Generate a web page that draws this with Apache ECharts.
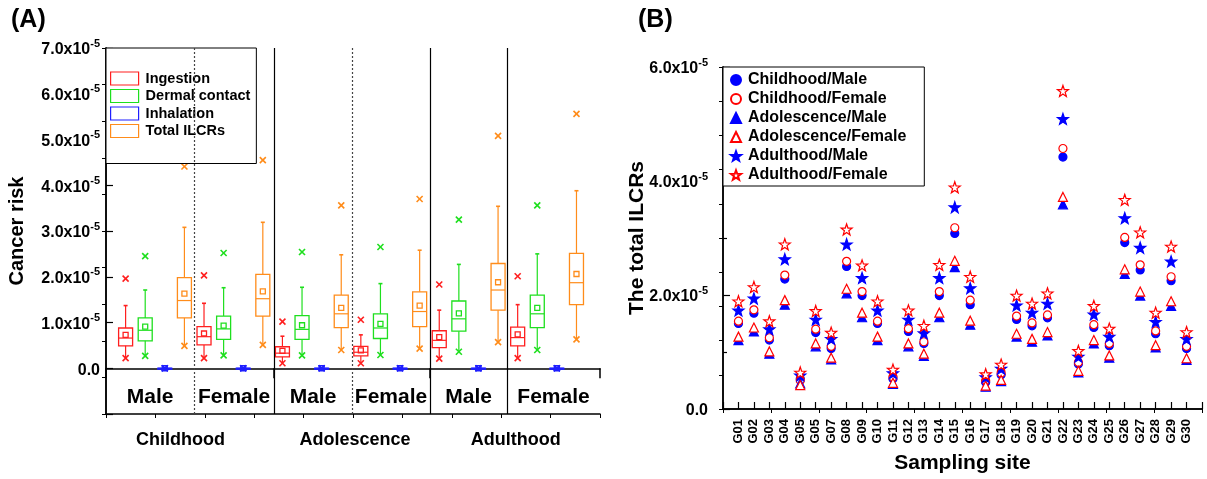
<!DOCTYPE html>
<html>
<head>
<meta charset="utf-8">
<script src="https://cdn.jsdelivr.net/npm/echarts@6/dist/echarts.min.js"></script>
<style>
  html, body { margin: 0; padding: 0; background: #fff; }
  #chart { width: 1207px; height: 479px; }
</style>
</head>
<body>
<div id="chart"></div>
<script>
// ---------- (A) box plots, values in units of 1e-5 ----------
// order of groups: Childhood M/F, Adolescence M/F, Adulthood M/F
// each row: [min, q1, median, q3, upper whisker, max, mean]
var sexes = ['Male', 'Female', 'Male', 'Female', 'Male', 'Female'];
var ageGroups = ['Childhood', 'Adolescence', 'Adulthood'];
var routes = ['Ingestion', 'Dermal contact', 'Inhalation', 'Total ILCRs'];

var ingestion = [
  [0.22, 0.49, 0.66, 0.88, 1.37, 1.96, 0.73],
  [0.22, 0.51, 0.69, 0.91, 1.42, 2.03, 0.76],
  [0.11, 0.25, 0.33, 0.47, 0.70, 1.02, 0.38],
  [0.11, 0.27, 0.35, 0.48, 0.73, 1.06, 0.39],
  [0.21, 0.45, 0.61, 0.82, 1.27, 1.83, 0.68],
  [0.22, 0.49, 0.67, 0.90, 1.39, 2.01, 0.74]
];
var dermal = [
  [0.27, 0.60, 0.83, 1.10, 1.71, 2.45, 0.91],
  [0.28, 0.63, 0.86, 1.14, 1.76, 2.52, 0.93],
  [0.28, 0.63, 0.85, 1.15, 1.77, 2.54, 0.94],
  [0.29, 0.65, 0.88, 1.19, 1.85, 2.65, 0.97],
  [0.36, 0.81, 1.08, 1.47, 2.27, 3.25, 1.20],
  [0.40, 0.89, 1.19, 1.60, 2.50, 3.56, 1.32]
];
var inhalation = [
  [0, 0, 0, 0, 0, 0, 0],
  [0, 0, 0, 0, 0, 0, 0],
  [0, 0, 0, 0, 0, 0, 0],
  [0, 0, 0, 0, 0, 0, 0],
  [0, 0, 0, 0, 0, 0, 0],
  [0, 0, 0, 0, 0, 0, 0]
];
var totalIlcr = [
  [0.49, 1.10, 1.48, 1.98, 3.08, 4.41, 1.63],
  [0.51, 1.14, 1.52, 2.05, 3.19, 4.55, 1.68],
  [0.40, 0.89, 1.19, 1.60, 2.48, 3.56, 1.32],
  [0.43, 0.91, 1.24, 1.67, 2.58, 3.70, 1.37],
  [0.57, 1.27, 1.71, 2.29, 3.54, 5.08, 1.88],
  [0.63, 1.39, 1.87, 2.51, 3.88, 5.56, 2.06]
];

// ---------- (B) total ILCRs per sampling site, units of 1e-5 ----------
var sites = ['G01','G02','G03','G04','G05','G05','G07','G08','G09','G10',
             'G11','G12','G13','G14','G15','G16','G17','G18','G19','G20',
             'G21','G22','G23','G24','G25','G26','G27','G28','G29','G30'];
var childMale   = [1.50,1.68,1.21,2.28,0.53,1.34,1.06,2.50,1.99,1.50,0.53,1.36,1.15,1.99,3.08,1.83,0.47,0.60,1.57,1.46,1.60,4.42,0.79,1.43,1.11,2.92,2.44,1.32,2.25,1.06];
var childFemale = [1.54,1.74,1.25,2.35,0.50,1.40,1.10,2.59,2.06,1.54,0.56,1.41,1.18,2.06,3.18,1.91,0.50,0.63,1.63,1.51,1.65,4.57,0.82,1.48,1.15,3.01,2.53,1.37,2.32,1.10];
var adolMale    = [1.21,1.36,0.97,1.83,0.45,1.10,0.87,2.03,1.61,1.21,0.44,1.10,0.93,1.61,2.49,1.48,0.39,0.49,1.27,1.18,1.29,3.59,0.64,1.15,0.90,2.37,1.99,1.08,1.81,0.86];
var adolFemale  = [1.27,1.43,1.01,1.91,0.42,1.15,0.90,2.11,1.69,1.27,0.46,1.15,0.97,1.69,2.60,1.55,0.41,0.51,1.32,1.23,1.35,3.72,0.67,1.21,0.94,2.45,2.06,1.12,1.89,0.89];
var adultMale   = [1.73,1.94,1.40,2.63,0.59,1.57,1.23,2.89,2.30,1.73,0.63,1.57,1.33,2.30,3.54,2.12,0.56,0.71,1.82,1.69,1.85,5.09,0.92,1.66,1.27,3.35,2.83,1.53,2.59,1.23];
var adultFemale = [1.89,2.14,1.54,2.89,0.64,1.72,1.34,3.15,2.52,1.89,0.69,1.73,1.46,2.53,3.89,2.32,0.61,0.78,1.99,1.85,2.03,5.58,1.02,1.81,1.41,3.67,3.10,1.69,2.85,1.35];

var E5 = 1e-5;
var FONT = '"Liberation Sans", Arial, Helvetica, sans-serif';
var routeColors = ['#ff1f1f', '#1edf1e', '#1f1fff', '#ff8c1a'];
var STAR = 'path://M0,-10L2.35,-3.24L9.51,-3.09L3.8,1.24L5.88,8.09L0,4.2L-5.88,8.09L-3.8,1.24L-9.51,-3.09L-2.35,-3.24Z';

// layout of panel A along its x value axis (box i sits at 1 + group*4 + route)
var xMaxA = 25.2;
var groupEdges = [4.5, 8.57, 12.55, 16.53, 20.46];
var solidEdge = [false, true, false, true, true];
var ageTicks = [0, 8.57, 16.53, xMaxA];
var ageLabelPos = [3.8, 12.7, 20.9];

var supRich = {
  b: { fontSize: 16, fontWeight: 'bold', fontFamily: FONT, color: '#000', padding: [4, 0, 0, 0] },
  s: { fontSize: 11, fontWeight: 'bold', fontFamily: FONT, color: '#000', verticalAlign: 'top' }
};
function sciLabel(v) {
  var n = Math.round(v / E5 * 10) / 10;
  if (n < 0) return '';
  if (n === 0) return '{b|0.0}';
  return '{b|' + n.toFixed(1) + 'x10}{s|-5}';
}

function boxData(rows, route) {
  return rows.map(function (r, g) {
    return [1 + g * 4 + route].concat(r.map(function (v) { return v * E5; }));
  });
}

function renderBox(params, api) {
  var x = api.value(0);
  var at = function (i) { return api.coord([x, api.value(i)]); };
  var pMin = at(1), pQ1 = at(2), pMed = at(3), pQ3 = at(4), pHi = at(5), pMax = at(6), pMean = at(7);
  var cx = pMed[0], hw = 7, c = api.visual('color');
  function st(w) { return { stroke: c, fill: 'none', lineWidth: w || 1.2 }; }
  function seg(x1, y1, x2, y2, w) {
    return { type: 'line', shape: { x1: x1, y1: y1, x2: x2, y2: y2 }, style: st(w) };
  }
  function cross(p) {
    return [seg(p[0] - 3, p[1] - 3, p[0] + 3, p[1] + 3, 1.6), seg(p[0] - 3, p[1] + 3, p[0] + 3, p[1] - 3, 1.6)];
  }
  var kids = [
    seg(cx, pQ3[1], cx, pHi[1]),
    seg(cx - 2, pHi[1], cx + 2, pHi[1], 1.6),
    seg(cx, pQ1[1], cx, pMin[1]),
    { type: 'rect', shape: { x: cx - hw, y: pQ3[1], width: 2 * hw, height: Math.max(pQ1[1] - pQ3[1], 1) }, style: st(1.3) },
    seg(cx - hw, pMed[1], cx + hw, pMed[1]),
    { type: 'rect', shape: { x: cx - 2.5, y: pMean[1] - 2.5, width: 5, height: 5 }, style: st(1.3) }
  ].concat(cross(pMin), cross(pMax));
  return { type: 'group', children: kids };
}

var boxRows = [ingestion, dermal, inhalation, totalIlcr];
var series = boxRows.map(function (rows, k) {
  return {
    name: routes[k], type: 'custom', xAxisIndex: 0, yAxisIndex: 0,
    itemStyle: { color: routeColors[k] },
    renderItem: renderBox,
    encode: { x: 0, y: [1, 2, 3, 4, 5, 6, 7] },
    data: boxData(rows, k),
    silent: true
  };
});

// Male / Female labels and group separators
var bounds = [0].concat(groupEdges, [xMaxA]);
series.push({
  type: 'custom', xAxisIndex: 0, yAxisIndex: 0, silent: true,
  encode: { x: 0, y: 1 },
  data: sexes.map(function (s, i) { return [(bounds[i] + bounds[i + 1]) / 2, -0.64 * E5]; }),
  renderItem: function (params, api) {
    var p = api.coord([api.value(0), api.value(1)]);
    return {
      type: 'text', x: p[0], y: p[1],
      style: { text: sexes[params.dataIndex], fill: '#000', align: 'center', verticalAlign: 'middle',
               font: 'bold 21px ' + FONT }
    };
  },
  markLine: {
    symbol: 'none', silent: true, label: { show: false },
    data: groupEdges.map(function (v, i) {
      return { xAxis: v, lineStyle: solidEdge[i]
        ? { color: '#000', width: 1.2, type: 'solid' }
        : { color: '#444', width: 1.2, type: [2, 2] } };
    })
  }
});

// panel B scatter series
var siteSeries = [
  { name: 'Childhood/Male', values: childMale, symbol: 'circle', size: 8, color: '#0000ff', fill: '#0000ff' },
  { name: 'Childhood/Female', values: childFemale, symbol: 'circle', size: 8, color: '#ff0000', fill: '#fff' },
  { name: 'Adolescence/Male', values: adolMale, symbol: 'triangle', size: 9, color: '#0000ff', fill: '#0000ff' },
  { name: 'Adolescence/Female', values: adolFemale, symbol: 'triangle', size: 9, color: '#ff0000', fill: '#fff' },
  { name: 'Adulthood/Male', values: adultMale, symbol: STAR, size: 11, color: '#0000ff', fill: '#0000ff' },
  { name: 'Adulthood/Female', values: adultFemale, symbol: STAR, size: 11, color: '#ff0000', fill: '#fff' }
];
siteSeries.forEach(function (s) {
  series.push({
    name: s.name, type: 'scatter', xAxisIndex: 2, yAxisIndex: 2,
    symbol: s.symbol, symbolSize: s.size,
    itemStyle: { color: s.fill, borderColor: s.color, borderWidth: 1.2, opacity: 1 },
    data: s.values.map(function (v, i) { return [i + 1, v * E5]; })
  });
});

var axisLine = { show: true, lineStyle: { color: '#000', width: 1.5 } };
var frameAxis = function (gridIndex, pos) {
  return {
    type: 'value', gridIndex: gridIndex, position: pos, min: 0, max: 10, interval: 1,
    axisLine: axisLine, axisLabel: { show: false }, splitLine: { show: false },
    axisTick: { show: true, inside: true, length: 4, lineStyle: { color: '#000', width: 1 } }
  };
};
var boldText = function (size) {
  return { color: '#000', fontSize: size, fontWeight: 'bold', fontFamily: FONT };
};

var option = {
  animation: false,
  backgroundColor: '#fff',
  title: [
    { text: '(A)', left: 11, top: 8, padding: 0, textStyle: boldText(25) },
    { text: '(B)', left: 638, top: 8, padding: 0, textStyle: boldText(25) }
  ],
  grid: [
    { left: 106, top: 48, width: 494, height: 366 },
    { left: 723, top: 67, width: 479, height: 345 }
  ],
  legend: [
    {
      orient: 'vertical', left: 106, top: 48, selectedMode: false,
      padding: [23, 6, 25, 4], itemWidth: 28, itemHeight: 13, itemGap: 2.5,
      backgroundColor: '#fff', borderColor: '#000', borderWidth: 1,
      textStyle: { color: '#000', fontSize: 14.5, fontWeight: 'bold', fontFamily: FONT, lineHeight: 14, padding: [0, 0, 0, 2] },
      data: routes.map(function (r, k) {
        return { name: r, icon: 'rect', itemStyle: { color: '#fff', borderColor: routeColors[k], borderWidth: 1.2 } };
      })
    },
    {
      orient: 'vertical', left: 723, top: 67, selectedMode: false,
      padding: [5, 18, 3, 7], itemWidth: 10, itemHeight: 10, itemGap: 3,
      backgroundColor: '#fff', borderColor: '#000', borderWidth: 1,
      textStyle: { color: '#000', fontSize: 16, fontWeight: 'bold', fontFamily: FONT, lineHeight: 16, padding: [0, 0, 0, 2] },
      data: siteSeries.map(function (s) { return s.name; })
    }
  ],
  xAxis: [
    {
      type: 'value', gridIndex: 0, position: 'bottom', min: 0, max: xMaxA,
      axisLine: axisLine, splitLine: { show: false },
      axisTick: { show: true, inside: false, length: 10, customValues: ageTicks, lineStyle: { color: '#000', width: 1.5 } },
      axisLabel: {
        customValues: ageLabelPos, margin: 17, ...boldText(18),
        formatter: function (v) {
          var best = 0;
          ageLabelPos.forEach(function (p, i) { if (Math.abs(p - v) < Math.abs(ageLabelPos[best] - v)) best = i; });
          return ageGroups[best];
        }
      }
    },
    frameAxis(0, 'top'),
    {
      type: 'value', gridIndex: 1, position: 'bottom', min: 0, max: sites.length + 1, interval: 1,
      name: 'Sampling site', nameLocation: 'middle', nameGap: 44, nameMoveOverlap: false,
      nameTextStyle: boldText(21),
      axisLine: axisLine, splitLine: { show: false },
      axisTick: { show: true, inside: true, length: 7, lineStyle: { color: '#000', width: 1.2 } },
      axisLabel: {
        rotate: 90, margin: 10, ...boldText(13), showMinLabel: true, showMaxLabel: true,
        formatter: function (v) { return sites[v - 1] || ''; }
      }
    },
    frameAxis(1, 'top')
  ],
  yAxis: [
    {
      type: 'value', gridIndex: 0, position: 'left', min: -1 * E5, max: 7 * E5, interval: E5,
      name: 'Cancer risk', nameLocation: 'middle', nameGap: 79, nameMoveOverlap: false,
      nameTextStyle: boldText(20),
      axisLine: axisLine, splitLine: { show: false },
      axisTick: { show: true, inside: true, length: 7, lineStyle: { color: '#000', width: 1.2 } },
      axisLabel: { margin: 6, formatter: sciLabel, rich: supRich }
    },
    frameAxis(0, 'right'),
    {
      type: 'value', gridIndex: 1, position: 'left', min: 0, max: 6 * E5, interval: 2 * E5,
      name: 'The total ILCRs', nameLocation: 'middle', nameGap: 75, nameMoveOverlap: false,
      nameTextStyle: boldText(21),
      axisLine: axisLine, splitLine: { show: false },
      axisTick: { show: true, inside: true, length: 7, lineStyle: { color: '#000', width: 1.2 } },
      minorTick: { show: true, splitNumber: 2, length: 4, lineStyle: { color: '#000', width: 1.2 } },
      minorSplitLine: { show: false },
      axisLabel: { margin: 15, formatter: sciLabel, rich: supRich }
    },
    frameAxis(1, 'right')
  ],
  series: series
};

var chart = echarts.init(document.getElementById('chart'));
chart.setOption(option);
window.addEventListener('resize', function () { chart.resize(); });
</script>
</body>
</html>
